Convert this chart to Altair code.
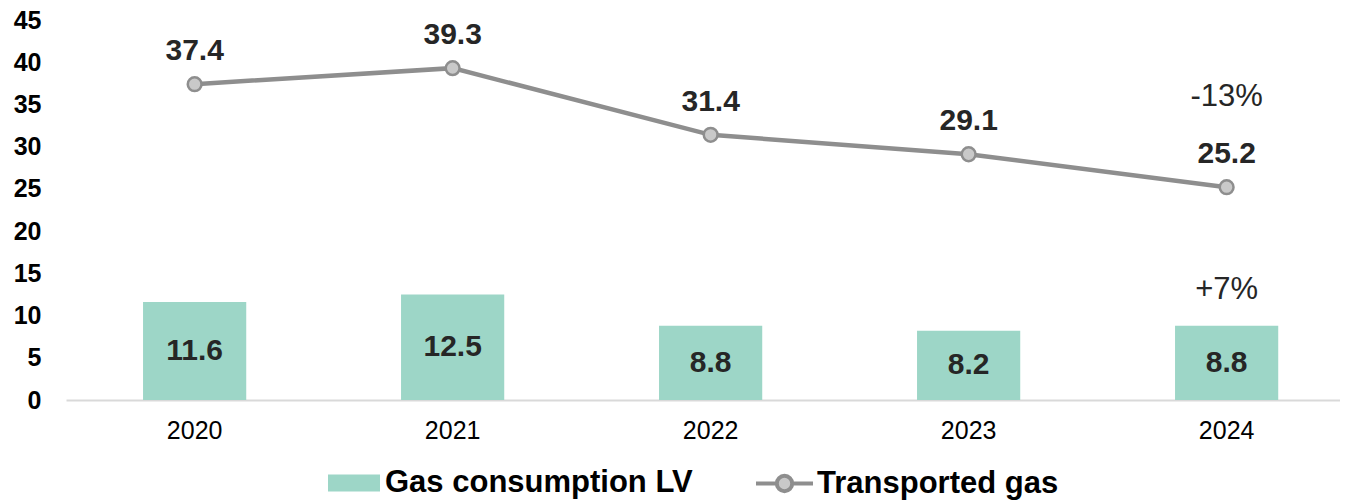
import altair as alt
import pandas as pd

years = ["2020", "2021", "2022", "2023", "2024"]
consumption = [11.6, 12.5, 8.8, 8.2, 8.8]
transported = [37.4, 39.3, 31.4, 29.1, 25.2]
ann_labels = ["-13%", "+7%"]
ann_years = ["2024", "2024"]
ann_values = [34.8, 12.0]
series_names = ["Gas consumption LV", "Transported gas"]

BAR = "#9dd6c7"
LINE = "#8e8e8e"
PT_FILL = "#c9c9c9"
TXT = "#262626"
FONT = "Liberation Sans"

df = pd.DataFrame({"year": years, "consumption": consumption, "transported": transported})
ann = pd.DataFrame({"year": ann_years, "value": ann_values, "label": ann_labels})

xscale = alt.Scale(domain=years, paddingInner=0.6, paddingOuter=0.269, align=0.555)
yscale = alt.Scale(domain=[0, 45], nice=False)

x = alt.X("year:N", scale=xscale, sort=years,
          axis=alt.Axis(title=None, labelAngle=0, ticks=False, tickSize=0,
                        domainColor="#d9d9d9", domainWidth=2,
                        labelFontSize=25, labelFont=FONT, labelColor="#000000",
                        labelPadding=18))
yaxis = alt.Axis(title=None, values=list(range(0, 50, 5)), grid=False, domain=False,
                 ticks=False, tickSize=0, labelFontSize=25, labelFontWeight="bold",
                 labelFont=FONT, labelColor="#000000", labelPadding=25)


def Y(field):
    return alt.Y(field, scale=yscale, axis=yaxis, title=None)


base = alt.Chart(df)

bars = base.transform_calculate(series=f"'{series_names[0]}'").mark_bar(fill=BAR).encode(
    x=x,
    y=Y("consumption:Q"),
    fill=alt.Fill("series:N",
                  scale=alt.Scale(domain=[series_names[0]], range=[BAR]),
                  legend=alt.Legend(title=None, orient="none", legendX=262, legendY=437,
                                    symbolType="M-1,-0.327H1V0.327H-1Z", symbolSize=2704,
                                    symbolStrokeWidth=0, symbolOpacity=1,
                                    labelFontSize=31, labelFontWeight="bold", labelFont=FONT,
                                    labelColor="#000000", labelOffset=5, labelLimit=500)),
)

bar_text = base.transform_calculate(half="datum.consumption / 2").mark_text(
    fontSize=30, fontWeight="bold", font=FONT, color=TXT, baseline="middle"
).encode(
    x=x,
    y=Y("half:Q"),
    text=alt.Text("consumption:Q", format=".1f"),
)

line = base.transform_calculate(series=f"'{series_names[1]}'").mark_line(strokeWidth=4.5).encode(
    x=x,
    y=Y("transported:Q"),
    stroke=alt.Stroke("series:N",
                      scale=alt.Scale(domain=[series_names[1]], range=[LINE]),
                      legend=alt.Legend(title=None, orient="none", legendX=688, legendY=433,
                                        symbolType="M-1,0H-0.27M0.27,0H1M0.27,0A0.27,0.27 0 1,1 -0.27,0A0.27,0.27 0 1,1 0.27,0",
                                        symbolSize=3249, symbolStrokeWidth=4,
                                        symbolFillColor=PT_FILL, symbolStrokeColor=LINE,
                                        labelFontSize=31, labelFontWeight="bold", labelFont=FONT,
                                        labelColor="#000000", labelOffset=2, labelLimit=500)),
)

points = base.mark_point(filled=True, fill=PT_FILL, stroke=LINE, strokeWidth=2.5,
                         size=190, opacity=1).encode(
    x=x,
    y=Y("transported:Q"),
)

line_text = base.mark_text(
    fontSize=30, fontWeight="bold", font=FONT, color=TXT, baseline="alphabetic", dy=-24
).encode(
    x=x,
    y=Y("transported:Q"),
    text=alt.Text("transported:Q", format=".1f"),
)

ann_text = alt.Chart(ann).mark_text(
    fontSize=31, font=FONT, color=TXT, baseline="alphabetic"
).encode(
    x=x,
    y=Y("value:Q"),
    text="label:N",
)

chart = alt.layer(bars, bar_text, line, points, line_text, ann_text).resolve_scale(
    fill="independent", stroke="independent"
).properties(
    width=1274, height=380,
    padding={"left": 58, "top": 12, "right": 0, "bottom": 102},
    autosize=alt.AutoSizeParams(type="none"),
).configure_view(stroke=None)

chart.save("out.html", embed_options={"renderer": "svg", "actions": False})
